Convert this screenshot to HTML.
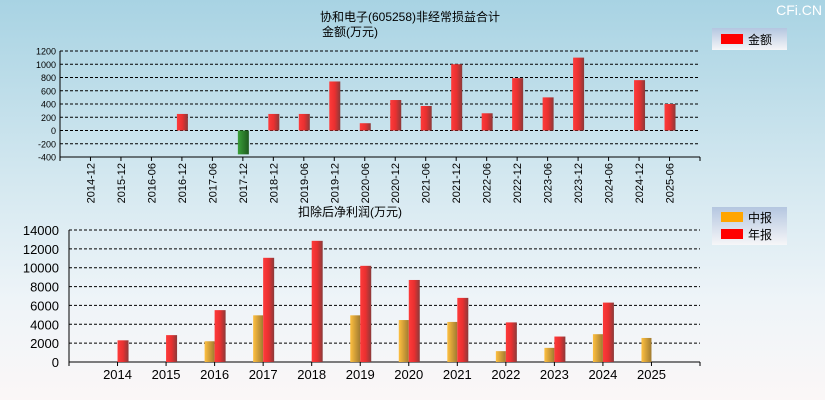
<!DOCTYPE html>
<html><head><meta charset="utf-8"><style>
body{margin:0;width:825px;height:400px;overflow:hidden;background:linear-gradient(#a8d3e3 0%,#d4e8f0 45%,#eef4f8 75%,#fbf7f7 100%);font-family:"Liberation Sans","Noto Sans CJK SC",sans-serif}
svg{position:absolute;left:0;top:0}
</style></head><body>
<svg id="c" width="825" height="400">
<defs>
<linearGradient id="gr" x1="0" x2="1"><stop offset="0" stop-color="#ff3a3a"/><stop offset="0.5" stop-color="#e83030"/><stop offset="1" stop-color="#8a3a3a"/></linearGradient>
<linearGradient id="gg" x1="0" x2="1"><stop offset="0" stop-color="#3aa03a"/><stop offset="1" stop-color="#1e5a1e"/></linearGradient>
<linearGradient id="go" x1="0" x2="1"><stop offset="0" stop-color="#ffc040"/><stop offset="1" stop-color="#a07a30"/></linearGradient>
<linearGradient id="lg" x1="0" x2="0" y1="0" y2="1"><stop offset="0" stop-color="#b4c6e0"/><stop offset="1" stop-color="#f6f6f8"/></linearGradient>
</defs>
<text x="410" y="21" font-size="12" text-anchor="middle">协和电子(605258)非经常损益合计</text>
<text x="322" y="36" font-size="12">金额(万元)</text>
<text x="298" y="216" font-size="12">扣除后净利润(万元)</text>
<text x="822" y="15" font-size="14" fill="#fff" text-anchor="end">CFi.CN</text>
<g>
<rect x="712" y="28" width="75" height="22" fill="url(#lg)"/>
<rect x="721" y="34" width="22" height="10" fill="#f00"/>
<text x="748" y="44" font-size="12">金额</text>
</g>
<g>
<rect x="712" y="207" width="75" height="38" fill="url(#lg)"/>
<rect x="721" y="212" width="22" height="10" fill="#ffa500"/>
<text x="748" y="222" font-size="12">中报</text>
<rect x="721" y="229" width="22" height="10" fill="#f00"/>
<text x="748" y="239" font-size="12">年报</text>
</g>
<g id="top"></g><g id="bot"></g>
</svg>
<script>
const topCats=["2014-12","2015-12","2016-06","2016-12","2017-06","2017-12","2018-12","2019-06","2019-12","2020-06","2020-12","2021-06","2021-12","2022-06","2022-12","2023-06","2023-12","2024-06","2024-12","2025-06"];
const topVals=[0,0,0,250,0,-360,250,250,740,110,460,370,1000,260,790,500,1100,0,760,400];
const topTicks=[1200,1000,800,600,400,200,0,-200,-400];
const botCats=["2014","2015","2016","2017","2018","2019","2020","2021","2022","2023","2024","2025"];
const interim=[null,null,2200,4950,null,4950,4450,4250,1150,1500,2950,2550];
const annual=[2300,2850,5500,11050,12850,10200,8700,6800,4200,2700,6300,null];
const botTicks=[14000,12000,10000,8000,6000,4000,2000,0];
const NS="http://www.w3.org/2000/svg";
function mk(p,t,a,txt){const e=document.createElementNS(NS,t);for(const k in a)e.setAttribute(k,a[k]);if(txt!=null)e.textContent=txt;p.appendChild(e);return e;}
// top chart
const T=document.getElementById('top');
const tx0=60,tx1=700,tyTop=51,tyBot=157,tmin=-400,tmax=1200;
const ty=v=>tyTop+(tmax-v)/(tmax-tmin)*(tyBot-tyTop);
const tstep=(tx1-tx0)/(topCats.length+1);
const tx=i=>tx0+tstep*(i+1);
topTicks.forEach(v=>{
 let l=mk(T,'line',{x1:tx0,x2:tx1,y1:ty(v),y2:ty(v),stroke:'#000','stroke-dasharray':'3,2','stroke-width':1});
 
 
 let t=mk(T,'text',{x:tx0-4,y:ty(v)+3.5,'font-size':9,'text-anchor':'end'},v);
 
 
});
mk(T,'line',{x1:tx0,x2:tx0,y1:tyTop,y2:tyBot+4,stroke:'#000'});
mk(T,'line',{x1:tx0,x2:tx1,y1:tyBot,y2:tyBot,stroke:'#000'});
mk(T,'line',{x1:tx1,x2:tx1,y1:tyBot,y2:tyBot+4,stroke:'#000'});
topCats.forEach((c,i)=>{
 mk(T,'line',{x1:tx(i),x2:tx(i),y1:tyBot,y2:tyBot+4,stroke:'#000'});
 let t=mk(T,'text',{x:0,y:0,'font-size':11,'text-anchor':'end',transform:`translate(${tx(i)+4},${tyBot+6}) rotate(-90)`},c);
 
 
 const v=topVals[i];
 if(v){const y0=ty(0),y1=ty(v);
  let r=mk(T,'rect',{x:tx(i)-5,y:Math.min(y0,y1),width:11,height:Math.abs(y1-y0),fill:v<0?'url(#gg)':'url(#gr)'});
  
  }
});
// bottom chart
const B=document.getElementById('bot');
const bx0=69,bx1=700,byTop=230,byBot=362,bmax=14000;
const by=v=>byTop+(bmax-v)/bmax*(byBot-byTop);
const bstep=(bx1-bx0)/(botCats.length+1);
const bx=i=>bx0+bstep*(i+1);
botTicks.forEach(v=>{
 let l=mk(B,'line',{x1:bx0,x2:bx1,y1:by(v),y2:by(v),stroke:'#000','stroke-dasharray':'3,2'});
 
 
 let t=mk(B,'text',{x:bx0-10,y:by(v)+5,'font-size':13,'text-anchor':'end'},v);
 
 
});
mk(B,'line',{x1:bx0,x2:bx0,y1:byTop,y2:byBot+4,stroke:'#000'});
mk(B,'line',{x1:bx0,x2:bx1,y1:byBot,y2:byBot,stroke:'#000'});
mk(B,'line',{x1:bx1,x2:bx1,y1:byBot,y2:byBot+4,stroke:'#000'});
botCats.forEach((c,i)=>{
 mk(B,'line',{x1:bx(i),x2:bx(i),y1:byBot,y2:byBot+4,stroke:'#000'});
 let t=mk(B,'text',{x:bx(i),y:byBot+17,'font-size':13,'text-anchor':'middle'},c);
 
 
 if(interim[i]!=null){let r=mk(B,'rect',{x:bx(i)-10,y:by(interim[i]),width:10,height:byBot-by(interim[i]),fill:'url(#go)'});
  
  }
 if(annual[i]!=null){let r=mk(B,'rect',{x:bx(i),y:by(annual[i]),width:11,height:byBot-by(annual[i]),fill:'url(#gr)'});
  
  }
});
</script>
</body></html>
